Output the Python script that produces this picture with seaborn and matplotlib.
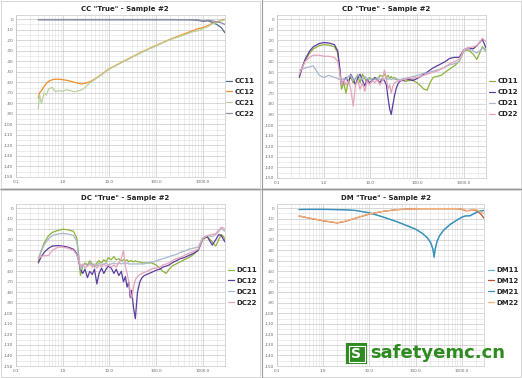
import numpy as np
import pandas as pd
import matplotlib
matplotlib.use("Agg")
import matplotlib.pyplot as plt
from matplotlib.patches import Rectangle
from matplotlib.ticker import FixedLocator, NullFormatter, MultipleLocator
import seaborn as sns

# ---------------- data ----------------
# CC panel
cc_freq = [0.3, 0.32, 0.35, 0.4, 0.45, 0.5, 0.6, 0.7, 0.8, 1.0, 1.2, 1.5, 1.8, 2.2, 2.6, 3.0, 3.5, 4.0,
           5.0, 7.0, 10, 20, 50, 100, 200, 400, 600, 800, 1000, 1300, 1600, 2000, 2500, 3000]
cc11 = [-0.5, -0.5, -0.5, -0.5, -0.5, -0.5, -0.5, -0.5, -0.5, -0.5, -0.5, -0.5, -0.5, -0.5, -0.5, -0.5, -0.5, -0.5,
        -0.5, -0.5, -0.5, -0.5, -0.5, -0.5, -0.5, -0.5, -0.6, -1.0, -2.0, -1.5, -3.0, -5.0, -8.0, -13.0]
cc12 = [-75, -70, -68, -64, -61, -59, -57.5, -57, -57, -57.5, -58, -59, -60, -61, -61.5, -61, -60, -59,
        -56.5, -52, -47, -40, -31, -25, -19, -14, -11, -9, -8, -6, -4, -2.5, -1, 0]
cc21 = [-85, -72, -80, -70, -72, -66, -65, -69, -68, -68.5, -67, -68, -69, -68, -67, -65, -62, -60,
        -57, -52.5, -47.5, -40.5, -31.5, -25.5, -19.5, -15, -12, -11, -9, -7, -4.5, -3, -1.5, -0.5]
cc22 = [-0.3, -0.3, -0.3, -0.3, -0.3, -0.3, -0.3, -0.3, -0.3, -0.3, -0.3, -0.3, -0.3, -0.3, -0.3, -0.3, -0.3, -0.3,
        -0.3, -0.3, -0.3, -0.3, -0.3, -0.3, -0.3, -0.4, -0.5, -0.8, -1.5, -1.0, -1.5, -2.5, -3.5, -5.0]

# CD / DC panels share one frequency list
md_freq = [0.3, 0.35, 0.4, 0.5, 0.6, 0.8, 1.0, 1.3, 1.7, 2.0, 2.2, 2.4, 2.7,
           3.0, 3.4, 3.8, 4.3, 4.8, 5.4, 6.0, 6.8, 7.6, 8.5, 9.5,
           11, 12.5, 14, 16, 18, 20, 22, 24, 26, 28, 30, 33, 36, 40, 45, 50, 56, 63, 71, 80, 90, 100,
           120, 140, 165, 190, 220, 270, 330, 400, 500, 630, 800, 1000,
           1250, 1600, 1900, 2200, 2500, 2800, 3000]

cd11 = [-53, -45, -39, -32, -28, -25, -24, -24.5, -26, -32, -48, -66, -60,
        -70, -58, -55, -60, -56, -53, -60, -52, -56, -60, -55,
        -57, -56, -58, -53, -54, -52, -55, -53, -56, -54, -56, -55, -57, -57, -58, -57, -59, -58, -58, -57, -59, -60,
        -63, -66, -67, -60, -55, -54, -53, -50, -47, -44, -40, -30,
        -29, -33, -38, -32, -26, -28, -30]
cd12 = [-55, -45, -38, -30, -26, -23, -22, -22.5, -24, -30, -45, -62, -58,
        -55, -60, -52, -57, -62, -55, -52, -58, -63, -57, -60,
        -58, -55, -57, -60, -56, -58, -62, -75, -85, -90, -82, -72, -65, -60, -58, -58, -57, -57, -57, -58, -57, -56,
        -54, -52, -50, -48, -46, -44, -42, -40, -37, -36, -36, -29,
        -27, -28, -25, -22, -19, -24, -27]
cd21 = [-48, -47, -46, -45, -44, -53, -55, -53, -55, -56, -57, -58, -56,
        -57, -54, -53, -58, -56, -52, -55, -57, -54, -56, -57,
        -56, -57, -55, -57, -56, -57, -55, -57, -56, -57, -56, -57, -56, -57, -57, -56, -56, -55, -55, -54, -54, -53,
        -52, -51, -51, -50, -49, -48, -47, -45, -43, -42, -40, -30,
        -28, -30, -32, -30, -27, -29, -31]
cd22 = [-52, -45, -40, -36, -34, -34, -35, -35, -36, -40, -50, -62, -57,
        -62, -58, -66, -82, -62, -58, -66, -60, -68, -58, -62,
        -58, -60, -57, -62, -58, -48, -56, -66, -62, -70, -64, -60, -59, -58, -58, -57, -57, -56, -56, -56, -55, -55,
        -54, -53, -52, -51, -50, -49, -47, -45, -42, -40, -38, -29,
        -27, -26, -25, -22, -18, -20, -21]

dc11 = [-50, -40, -33, -26, -23, -21, -20, -20.5, -22, -28, -45, -64, -55,
        -52, -54, -50, -53, -56, -52, -50, -52, -49, -51, -47,
        -49, -46, -49, -48, -50, -49, -50, -49, -51, -50, -50, -51, -50, -51, -51, -52, -52, -52, -52, -52, -53, -54,
        -57, -60, -62, -58, -55, -53, -51, -49, -47, -44, -40, -30,
        -27, -32, -36, -30, -25, -27, -30]
dc12 = [-52, -46, -42, -38, -36, -35.5, -36, -37, -39, -43, -50, -58, -62,
        -58, -66, -60, -63, -58, -72, -62, -57, -62, -58, -55,
        -57, -62, -58, -64, -60, -70, -65, -75, -70, -85, -78, -95, -105, -80, -70, -66, -64, -63, -62, -61, -60, -59,
        -58, -56, -55, -54, -52, -50, -48, -47, -45, -43, -40, -29,
        -27, -35, -30, -25, -26, -30, -32]
dc21 = [-48, -40, -35, -29, -26, -24.5, -24, -24.5, -26, -31, -45, -58, -54,
        -53, -55, -52, -54, -53, -55, -52, -54, -53, -52, -54,
        -53, -52, -53, -52, -53, -52, -53, -52, -53, -53, -53, -53, -53, -53, -53, -53, -53, -52, -52, -51, -51, -50,
        -49, -48, -47, -46, -45, -44, -42, -41, -39, -38, -37, -28,
        -26, -27, -25, -22, -19, -21, -22]
dc22 = [-48, -46, -45, -45, -40, -37, -37, -38, -40, -44, -50, -55, -53,
        -57, -55, -53, -56, -54, -57, -54, -56, -53, -55, -54,
        -56, -54, -56, -52, -48, -40, -55, -62, -70, -80, -86, -75, -68, -65, -63, -62, -61, -60, -59, -58, -57, -57,
        -56, -54, -53, -52, -50, -48, -47, -45, -43, -41, -39, -29,
        -26, -25, -24, -21, -18, -19, -20]

# DM panel
dm_freq = [0.3, 0.5, 1.0, 2.0, 3.0, 5.0, 10, 20, 37, 60, 100, 140, 180, 210, 235, 250, 265, 290, 330, 400,
           560, 800, 1000, 1200, 1500, 1800, 2200, 2600, 3000]
dm11 = [-1.3, -1.2, -1.2, -1.4, -1.6, -2.2, -4.5, -8.5, -12.5, -16, -20, -24, -28, -32, -38, -47, -38, -31, -26, -21,
        -15, -11, -8.5, -7, -7.5, -5, -3, -2.5, -2.5]
dm12 = [-7.5, -9.5, -12, -14, -12.5, -9.5, -5.5, -3, -1.5, -1, -0.6, -0.5, -0.5, -0.5, -0.5, -0.5, -0.5, -0.5, -0.5, -0.5,
        -0.5, -0.5, -1, -2.5, -2, -1.5, -3, -6, -9.5]
dm21 = [-1.2, -1.1, -1.1, -1.3, -1.5, -2.1, -4.4, -8.4, -12.4, -16, -20, -24, -28.5, -33, -39, -46, -39, -31.5, -26, -21,
        -15.5, -11, -8.5, -7.5, -7, -5.5, -3.5, -2.5, -2]
dm22 = [-7.3, -9.3, -11.8, -13.8, -12.3, -9.3, -5.3, -2.9, -1.4, -0.9, -0.5, -0.4, -0.4, -0.4, -0.4, -0.4, -0.4, -0.4, -0.4, -0.4,
        -0.4, -0.5, -0.8, -2, -2.5, -1, -2, -4, -5]

x_ticks = [0.1, 1.0, 10.0, 100.0, 1000.0]
x_tick_labels = ["0.1", "1.0", "10.0", "100.0", "1000.0"]
y_ticks = list(range(0, -151, -10))

panels = [
    ('CC "True" - Sample #2', cc_freq, {"CC11": cc11, "CC12": cc12, "CC21": cc21, "CC22": cc22},
     {"CC11": "#4f6e8c", "CC12": "#f28e2b", "CC21": "#b9d39c", "CC22": "#8e8ea8"}),
    ('CD "True" - Sample #2', md_freq, {"CD11": cd11, "CD12": cd12, "CD21": cd21, "CD22": cd22},
     {"CD11": "#8cb33a", "CD12": "#5b3c9e", "CD21": "#a9b8cc", "CD22": "#e6a3bd"}),
    ('DC "True" - Sample #2', md_freq, {"DC11": dc11, "DC12": dc12, "DC21": dc21, "DC22": dc22},
     {"DC11": "#8cb33a", "DC12": "#5b3c9e", "DC21": "#a9b8cc", "DC22": "#e6a3bd"}),
    ('DM "True" - Sample #2', dm_freq, {"DM11": dm11, "DM12": dm12, "DM21": dm21, "DM22": dm22},
     {"DM11": "#62b5d9", "DM12": "#c0502d", "DM21": "#3a8fb7", "DM22": "#f2b27a"}),
]

# ---------------- figure ----------------
sns.set_style("white")
plt.rcParams['font.family'] = ['DejaVu Sans']
W, H = 522, 378
fig = plt.figure(figsize=(W / 100, H / 100), dpi=100)

# pixel boxes of plot areas: (left, top, right, bottom)
boxes = [(16, 15, 225, 177), (277, 15, 486, 178), (16, 204, 225, 366), (277, 204, 484, 366)]
origins = [(0, 0), (261, 0), (0, 189), (261, 189)]
legend_x_px = [226, 489, 228, 488]

for (title, freq, series, pal), (l, t, r, b), (ox, oy), lx in zip(panels, boxes, origins, legend_x_px):
    ax = fig.add_axes([l / W, 1 - b / H, (r - l) / W, (b - t) / H])
    rows = []
    for name, vals in series.items():
        for f, v in zip(freq, vals):
            rows.append((f, v, name))
    df = pd.DataFrame(rows, columns=["freq", "dB", "series"])
    sns.lineplot(data=df, x="freq", y="dB", hue="series", palette=pal, estimator=None,
                 linewidth=0.9, ax=ax)
    ax.set_xscale("log")
    ax.set_xlim(0.1, 3000)
    ax.set_ylim(-150, 4)
    ax.xaxis.set_major_locator(FixedLocator(x_ticks))
    ax.set_xticklabels(x_tick_labels)
    minors = [m * d for d in [0.1, 1, 10, 100, 1000] for m in range(2, 10) if m * d <= 3000]
    ax.xaxis.set_minor_locator(FixedLocator(minors))
    ax.xaxis.set_minor_formatter(NullFormatter())
    ax.set_yticks(y_ticks)
    ax.set_yticklabels([str(v) for v in y_ticks])
    ax.yaxis.set_minor_locator(MultipleLocator(5))
    ax.grid(True, which="major", color="#c8c8c8", linewidth=0.5)
    ax.grid(True, which="minor", color="#e0e0e0", linewidth=0.4)
    ax.set_axisbelow(True)
    ax.tick_params(axis="both", which="both", length=0, labelsize=3, labelcolor="#666666", pad=2)
    for s in ax.spines.values():
        s.set_color("#c8c8c8")
        s.set_linewidth(0.5)
    ax.set_xlabel("")
    ax.set_ylabel("")
    handles, labels = ax.get_legend_handles_labels()
    ax.legend(handles, labels, loc="upper left",
              bbox_to_anchor=((lx - l) / (r - l), 1 - (78 - 15) / 162), frameon=False,
              prop={"weight": "bold", "size": 5}, handlelength=0.9, handletextpad=0.3,
              labelspacing=0.7, borderaxespad=0, borderpad=0)
    fig.text((ox + 125) / W, 1 - (oy + 9) / H, title, ha="center", va="center",
             fontsize=5, fontweight="bold", color="#222222")

# panel borders / separators
for (ox, oy) in origins:
    fig.patches.append(Rectangle(((ox + 1) / W, 1 - (oy + 188) / H), 259 / W, 187 / H,
                                 transform=fig.transFigure, fill=False, edgecolor="#d0d0d0",
                                 linewidth=0.6))
fig.add_artist(plt.Line2D([261.5 / W, 261.5 / W], [0, 1], color="#9a9a9a", linewidth=0.8,
                          transform=fig.transFigure))
fig.add_artist(plt.Line2D([0, 1], [1 - 189 / H, 1 - 189 / H], color="#9a9a9a", linewidth=0.8,
                          transform=fig.transFigure))

# watermark
green = "#2e8b1f"
fig.patches.append(Rectangle((346 / W, 1 - 364 / H), 21 / W, 21 / H, transform=fig.transFigure,
                             facecolor=green, edgecolor="none", zorder=10))
fig.patches.append(Rectangle((348.5 / W, 1 - 361.5 / H), 16 / W, 16 / H, transform=fig.transFigure,
                             facecolor="none", edgecolor="white", linewidth=0.8, zorder=11))
fig.text(356.5 / W, 1 - 353.5 / H, "S", ha="center", va="center", fontsize=10, fontweight="bold",
         color="white", zorder=12)
fig.text(370 / W, 1 - 353.5 / H, "safetyemc.cn", ha="left", va="center", fontsize=13,
         fontweight="bold", color=green, zorder=12)

fig.savefig("out.png", dpi=100, facecolor="white")
